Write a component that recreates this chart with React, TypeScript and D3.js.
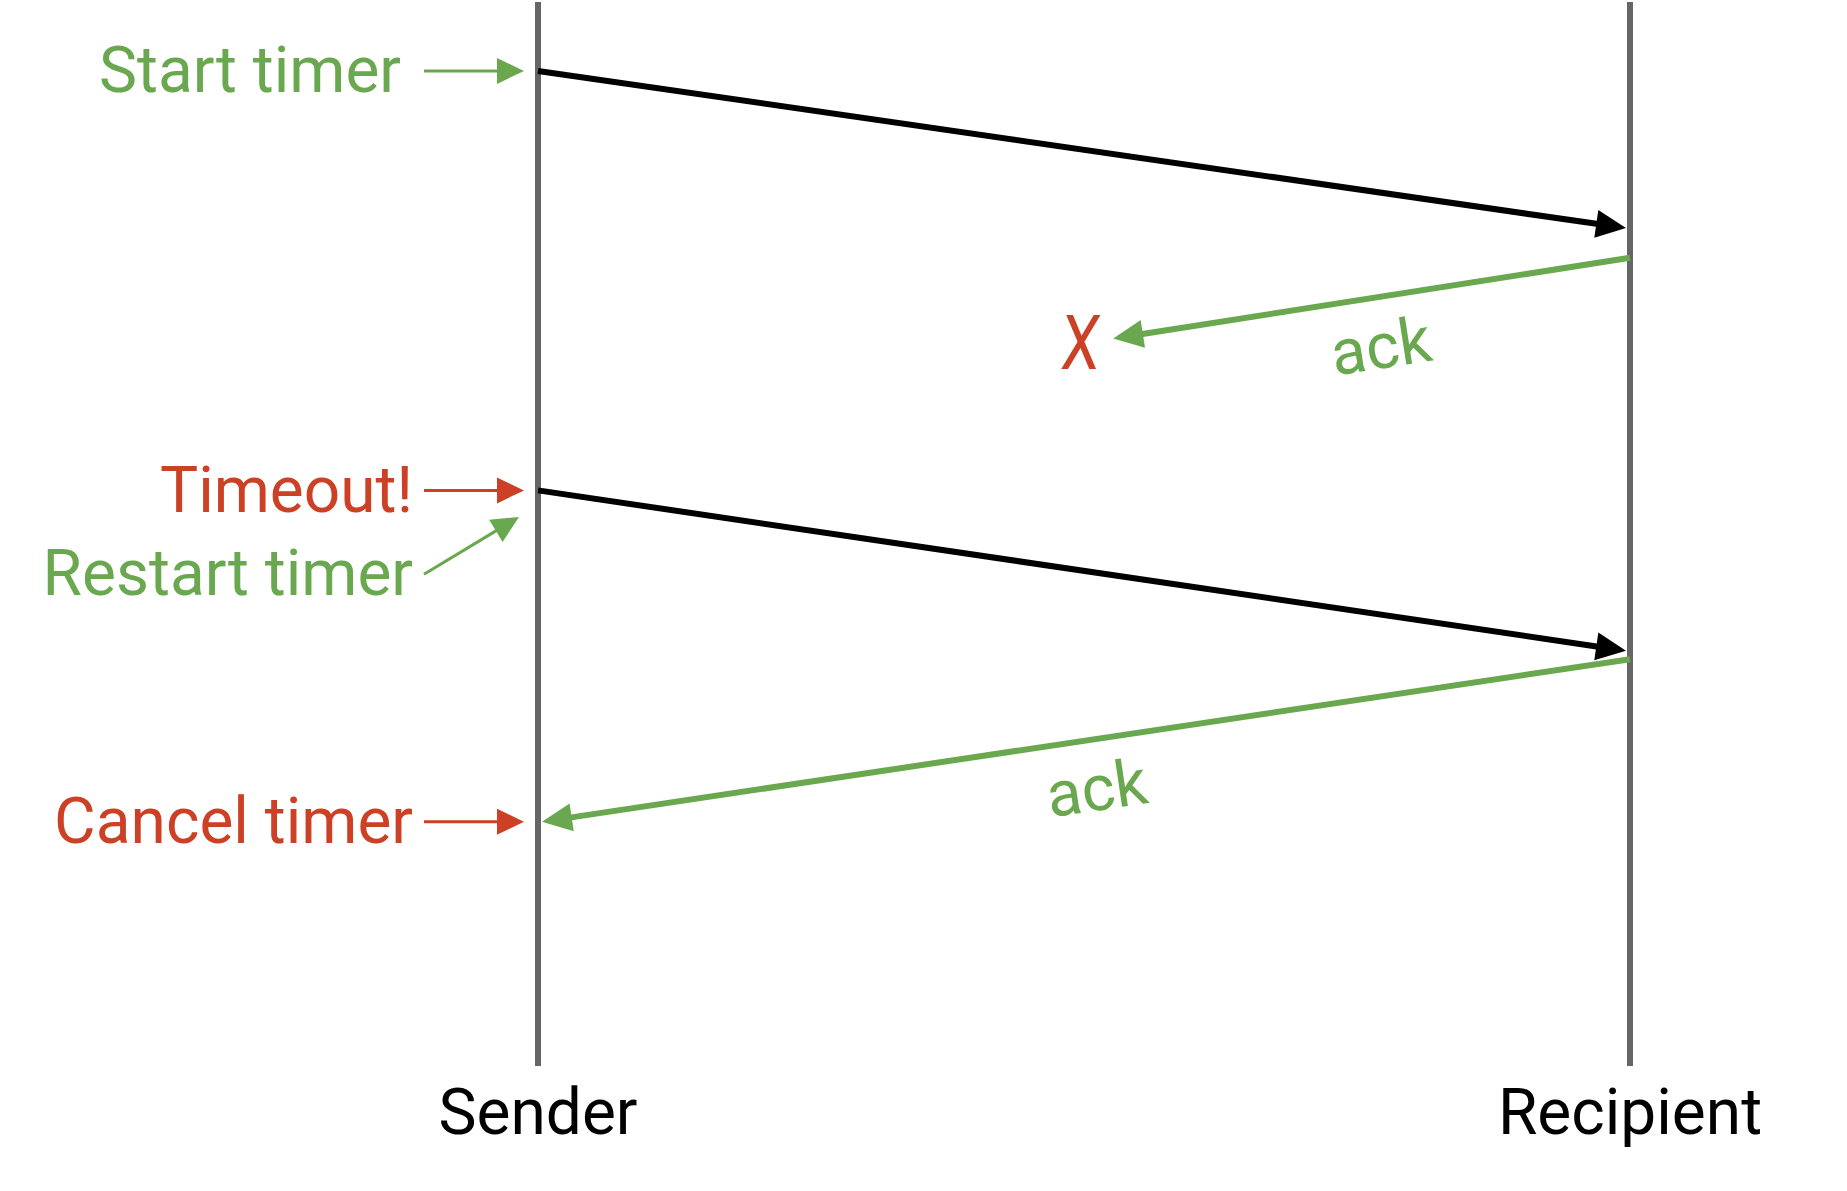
import React, { useEffect, useRef } from 'react';
import * as d3 from 'd3';

const width = 1847;
const height = 1191;

const lanes = ['Sender', 'Recipient'];

// time runs top to bottom, 0..100 over the length of a lifeline
const messages = [
  { from: 'Sender', to: 'Recipient', sent: 6.3, received: 21.1, kind: 'data' },
  { from: 'Recipient', to: 'Sender', sent: 23.9, received: 39.9, kind: 'ack', lostAt: 0.475 },
  { from: 'Sender', to: 'Recipient', sent: 45.8, received: 60.9, kind: 'data' },
  { from: 'Recipient', to: 'Sender', sent: 61.7, received: 77.0, kind: 'ack' },
];

// where along each ack the "ack" label sits (fraction from the recipient end)
const ackLabelAt = [0.235, 0.495];

const timerEvents = [
  { label: 'Start timer', time: 6.3, kind: 'start' },
  { label: 'Timeout!', time: 45.8, kind: 'stop' },
  { label: 'Restart timer', time: 53.7, target: 48.3, kind: 'start' },
  { label: 'Cancel timer', time: 77.0, kind: 'stop' },
];

// gap between the sender lifeline and the end of each label
const labelGap = [137, 125, 125, 125];

const GREEN = '#6aa84f';
const RED = '#cc4125';
const GREY = '#666666';
const FONT = 'Roboto, "Noto Sans", sans-serif';

const drawArrow = (
  g: d3.Selection<SVGGElement, unknown, null, undefined>,
  x1: number, y1: number, x2: number, y2: number,
  color: string, strokeWidth: number, headLen: number, headHalf: number
) => {
  const dx = x2 - x1;
  const dy = y2 - y1;
  const len = Math.sqrt(dx * dx + dy * dy);
  const ux = dx / len;
  const uy = dy / len;
  const bx = x2 - ux * headLen;
  const by = y2 - uy * headLen;
  g.append('line')
    .attr('x1', x1).attr('y1', y1)
    .attr('x2', bx + ux * 2).attr('y2', by + uy * 2)
    .attr('stroke', color)
    .attr('stroke-width', strokeWidth);
  g.append('polygon')
    .attr('points', [
      [x2, y2],
      [bx - uy * headHalf, by + ux * headHalf],
      [bx + uy * headHalf, by - ux * headHalf],
    ].map(p => p.join(',')).join(' '))
    .attr('fill', color);
};

export default function App() {
  const svgRef = useRef<SVGSVGElement>(null);

  useEffect(() => {
    if (!svgRef.current) return;
    const svg = d3.select(svgRef.current);
    svg.selectAll('*').remove();

    const x = d3.scalePoint<string>().domain(lanes).range([538, 1630]);
    const y = d3.scaleLinear().domain([0, 100]).range([4, 1066]);

    const g = svg.append('g');

    // lifelines
    g.selectAll('.lane')
      .data(lanes)
      .enter()
      .append('line')
      .attr('class', 'lane')
      .attr('x1', d => x(d)!)
      .attr('x2', d => x(d)!)
      .attr('y1', 2)
      .attr('y2', y(100))
      .attr('stroke', GREY)
      .attr('stroke-width', 6);

    g.selectAll('.lane-label')
      .data(lanes)
      .enter()
      .append('text')
      .attr('class', 'lane-label')
      .attr('x', d => x(d)!)
      .attr('y', 1134)
      .attr('text-anchor', 'middle')
      .style('font-family', FONT)
      .style('font-size', '64px')
      .attr('fill', '#000')
      .text(d => d);

    // messages
    let ackIdx = 0;
    messages.forEach(m => {
      const color = m.kind === 'data' ? '#000' : GREEN;
      const x1 = x(m.from)!;
      const y1 = y(m.sent);
      const dir = m.from === 'Sender' ? 1 : -1;
      const xEnd = x(m.to)! - dir * 4;
      const yEnd = y(m.received);
      if (m.lostAt !== undefined) {
        const tx = x1 + (xEnd - x1) * m.lostAt;
        const ty = y1 + (yEnd - y1) * m.lostAt;
        drawArrow(g, x1, y1, tx, ty, color, 6, 30, 14);
        const len = Math.hypot(xEnd - x1, yEnd - y1);
        const cx = tx + ((xEnd - x1) / len) * 35;
        const cy = ty + ((yEnd - y1) / len) * 35;
        g.append('text')
          .attr('transform', `translate(${cx},${cy + 25}) skewX(-5) scale(0.8,1)`)
          .attr('text-anchor', 'middle')
          .style('font-family', FONT)
          .style('font-size', '76px')
          .attr('fill', RED)
          .text('X');
      } else {
        drawArrow(g, x1, y1, xEnd, yEnd, color, 6, 30, 14);
      }

      if (m.kind === 'ack') {
        const sx = x(m.to)!;
        const sy = yEnd;
        const ang = Math.atan2(y1 - sy, x1 - sx);
        const f = ackLabelAt[ackIdx++];
        const px = x1 + (sx - x1) * f;
        const py = y1 + (sy - y1) * f;
        const off = 52;
        const lx = px - Math.sin(ang) * off;
        const ly = py + Math.cos(ang) * off;
        g.append('text')
          .attr('transform', `translate(${lx},${ly}) rotate(${(ang * 180) / Math.PI})`)
          .attr('text-anchor', 'middle')
          .attr('dy', '0.3em')
          .style('font-family', FONT)
          .style('font-size', '64px')
          .attr('fill', GREEN)
          .text('ack');
      }
    });

    // timer annotations on the sender side
    const sx = x('Sender')!;
    timerEvents.forEach((ev, i) => {
      const color = ev.kind === 'start' ? GREEN : RED;
      const ay = y(ev.time);
      if (ev.target !== undefined) {
        drawArrow(g, sx - 114, ay, sx - 19, y(ev.target), color, 3, 27, 13);
      } else {
        drawArrow(g, sx - 114, ay, sx - 14, ay, color, 3, 27, 13);
      }
      g.append('text')
        .attr('x', sx - labelGap[i])
        .attr('y', ay)
        .attr('dy', '0.33em')
        .attr('text-anchor', 'end')
        .style('font-family', FONT)
        .style('font-size', '64px')
        .attr('fill', color)
        .text(ev.label);
    });
  }, []);

  return (
    <svg
      ref={svgRef}
      width={width}
      height={height}
      style={{ position: 'absolute', left: 0, top: 0, background: '#fff' }}
    />
  );
}
